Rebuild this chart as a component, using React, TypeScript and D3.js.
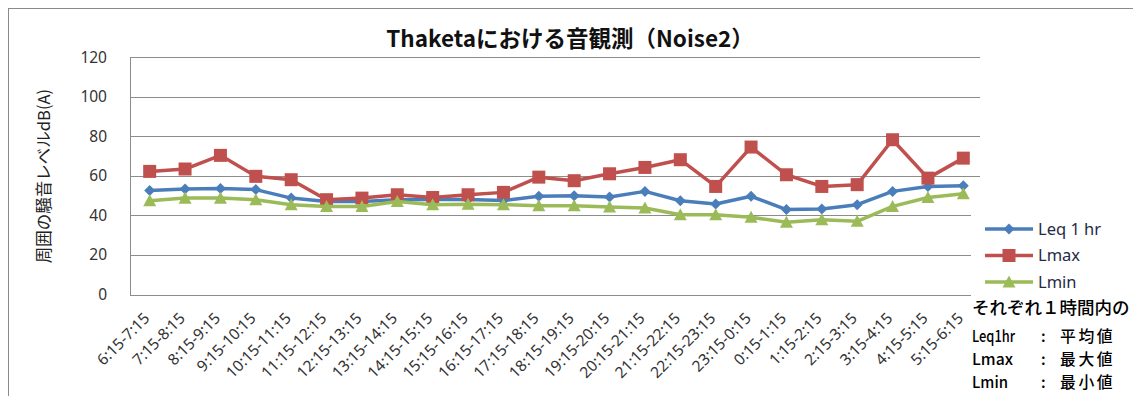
import React from "react";
import * as d3 from "d3";

const categories = [
  "6:15-7:15", "7:15-8:15", "8:15-9:15", "9:15-10:15", "10:15-11:15", "11:15-12:15",
  "12:15-13:15", "13:15-14:15", "14:15-15:15", "15:15-16:15", "16:15-17:15", "17:15-18:15",
  "18:15-19:15", "19:15-20:15", "20:15-21:15", "21:15-22:15", "22:15-23:15", "23:15-0:15",
  "0:15-1:15", "1:15-2:15", "2:15-3:15", "3:15-4:15", "4:15-5:15", "5:15-6:15",
];
const leq1hr = [52.6, 53.3, 53.5, 53.0, 48.7, 47.0, 47.0, 47.9, 48.0, 48.0, 47.5, 49.6,
  49.9, 49.3, 52.1, 47.4, 45.7, 49.6, 42.9, 43.2, 45.4, 52.1, 54.6, 55.0];
const lmax = [62.2, 63.4, 70.3, 59.7, 58.0, 47.9, 48.7, 50.4, 49.0, 50.4, 51.6, 59.3,
  57.5, 61.0, 64.2, 68.1, 54.6, 74.5, 60.5, 54.6, 55.5, 78.2, 58.8, 68.9];
const lmin = [47.4, 48.7, 48.7, 47.9, 45.4, 44.5, 44.5, 47.0, 45.4, 45.6, 45.4, 44.9,
  44.9, 44.2, 43.7, 40.3, 40.3, 39.0, 36.5, 37.8, 37.0, 44.5, 49.0, 50.9];
const yTicks = [0, 20, 40, 60, 80, 100, 120];
const seriesNames = ["Leq 1 hr", "Lmax", "Lmin"];
const title = "Thaketaにおける音観測（Noise2）";
const yLabel = "周囲の騒音レベルdB(A)";
const noteHeader = "それぞれ１時間内の";
const noteKeys = ["Leq1hr", "Lmax", "Lmin"];
const noteVals = ["平均値", "最大値", "最小値"];

if (typeof document !== "undefined") {
  document.body.style.margin = "0";
}

const W = 1133, H = 396;
const plotL = 130, plotR = 980, plotT = 57, plotB = 294.5;
const colors = ["#4a7ebb", "#c0504d", "#9bbb59"];
const FONT = "'Noto Sans', 'Noto Sans CJK JP', sans-serif";
const CJK = "'Noto Sans CJK JP', sans-serif";

function Marker({ kind, x, y, color }: { kind: number; x: number; y: number; color: string }) {
  if (kind === 0) {
    const s = 5.5;
    return <path d={`M${x},${y - s}L${x + s},${y}L${x},${y + s}L${x - s},${y}Z`} fill={color} />;
  }
  if (kind === 1) {
    const s = 6.5;
    return <rect x={x - s} y={y - s} width={2 * s} height={2 * s} fill={color} />;
  }
  const s = 6.5;
  return <path d={`M${x},${y - s}L${x + s},${y + s * 0.85}L${x - s},${y + s * 0.85}Z`} fill={color} />;
}

export default function App() {
  const x = d3.scaleBand<string>().domain(categories).range([plotL + 2, plotR + 1]).padding(0);
  const y = d3.scaleLinear().domain([0, 120]).range([plotB, plotT]);
  const cx = (c: string) => (x(c) as number) + x.bandwidth() / 2;
  const series = [leq1hr, lmax, lmin];
  const line = d3.line<number>().x((_, i) => cx(categories[i])).y((v) => y(v));
  const keyLen = [43, 41, 36];

  return (
    <svg width={W} height={H} style={{ display: "block", background: "#fff" }}>
      <rect x={8.5} y={8.5} width={1140} height={400} fill="#fff" stroke="#8a8a8a" strokeWidth={1} />
      {/* gridlines */}
      {yTicks.map((t) => (
        <line key={t} x1={plotL} x2={plotR} y1={Math.round(y(t)) + 0.5} y2={Math.round(y(t)) + 0.5}
          stroke="#8c8c8c" strokeWidth={1} />
      ))}
      <line x1={plotL + 0.5} x2={plotL + 0.5} y1={plotT} y2={plotB + 1} stroke="#8c8c8c" strokeWidth={1} />
      {/* y tick labels */}
      {yTicks.map((t) => (
        <text key={t} x={107} y={y(t)} dy="0.36em" textAnchor="end" fontFamily={FONT} fontSize={15.5} fill="#333">
          {t}
        </text>
      ))}
      {/* y label */}
      <text transform={`translate(50,176) rotate(-90)`} textAnchor="middle" fontFamily={CJK} fontSize={16.5} fill="#222">
        {yLabel}
      </text>
      {/* x tick labels */}
      {categories.map((c) => (
        <text key={c} transform={`translate(${cx(c) - 3},${plotB + 21}) rotate(-45)`} textAnchor="end"
          dy="0.35em" fontFamily={FONT} fontSize={15.5} fill="#333">
          {c}
        </text>
      ))}
      {/* title */}
      <text x={570} y={47} textAnchor="middle" fontFamily={CJK} fontWeight={700} fontSize={22.5} fill="#111">
        {title}
      </text>
      {/* legend background */}
      <rect x={971} y={210} width={170} height={88} fill="#fff" />
      {/* series */}
      {series.map((s, k) => (
        <g key={k}>
          <path d={line(s) || ""} fill="none" stroke={colors[k]} strokeWidth={3.5} strokeLinejoin="round" />
          {s.map((v, i) => (
            <Marker key={i} kind={k} x={cx(categories[i])} y={y(v)} color={colors[k]} />
          ))}
        </g>
      ))}
      {/* legend */}
      {seriesNames.map((n, k) => {
        const ly = 229 + k * 26.5;
        return (
          <g key={n}>
            <line x1={985} x2={1033} y1={ly} y2={ly} stroke={colors[k]} strokeWidth={3.5} />
            <Marker kind={k} x={1009} y={ly} color={colors[k]} />
            <text x={1038} y={ly} dy="0.36em" fontFamily={FONT} fontSize={16.5} fill="#1f2a44">{n}</text>
          </g>
        );
      })}
      {/* note */}
      <text x={972} y={314} fontFamily={CJK} fontSize={17.5} fontWeight={500} fill="#000">{noteHeader}</text>
      {noteKeys.map((kk, i) => {
        const by = 342 + i * 23;
        return (
          <g key={kk}>
            <text x={972} y={by} fontFamily={CJK} fontSize={15.8} fontWeight={500} fill="#000"
              textLength={keyLen[i]} lengthAdjust="spacingAndGlyphs">{kk}</text>
            <text x={1041} y={by} fontFamily={CJK} fontSize={15.5} fontWeight={500} fill="#000">:</text>
            <text x={1060} y={by} fontFamily={CJK} fontSize={15.8} fontWeight={500} letterSpacing={2.6} fill="#000">{noteVals[i]}</text>
          </g>
        );
      })}
    </svg>
  );
}
